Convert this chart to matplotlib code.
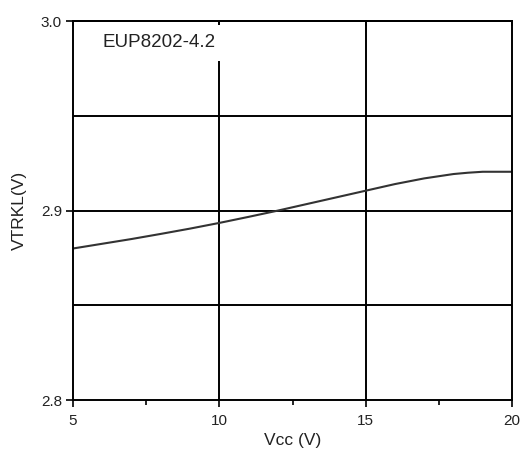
import numpy as np
import matplotlib.pyplot as plt
from matplotlib.ticker import MultipleLocator

plt.rcParams['font.family'] = ['Liberation Sans', 'DejaVu Sans']

# curve
vcc = [5, 6, 7, 8, 9, 10, 11, 12, 13, 14, 15, 16, 17, 18, 18.5, 19, 19.5, 20]
vtrkl = [2.880, 2.8825, 2.885, 2.8877, 2.8905, 2.8935, 2.8967, 2.900, 2.9035,
         2.907, 2.9105, 2.914, 2.917, 2.9193, 2.920, 2.9205, 2.9205, 2.9205]
xticks = [5, 10, 15, 20]
yticks = [2.8, 2.9, 3.0]
ygrid = [2.85, 2.9, 2.95]
xgrid = [10, 15]

fig = plt.figure(figsize=(5.23, 4.5), dpi=100)
ax = fig.add_axes([0.1396, 0.111, 0.8394, 0.842])

for g in ygrid:
    ax.axhline(g, color='black', lw=1.4, zorder=1)
for g in xgrid:
    ax.axvline(g, color='black', lw=1.4, zorder=1)

ax.plot(vcc, vtrkl, color='#333333', lw=1.5, zorder=2)

ax.set_xlim(5, 20)
ax.set_ylim(2.8, 3.0)
ax.set_xticks(xticks)
ax.set_yticks(yticks)
ax.set_yticklabels(['2.8', '2.9', '3.0'])
ax.xaxis.set_minor_locator(MultipleLocator(2.5))
ax.tick_params(axis='both', which='major', direction='out', length=5, width=1.2,
               labelsize=11, pad=3, labelcolor='#222222')
ax.tick_params(axis='x', which='major', pad=5)
ax.tick_params(axis='x', which='minor', direction='out', length=3.5, width=1.2)
for s in ax.spines.values():
    s.set_linewidth(1.4)

# small inward ticks on the top edge
top = ax.secondary_xaxis('top')
top.set_xticks(xticks)
top.tick_params(direction='in', length=3.5, width=1.2, labeltop=False)
top.spines['top'].set_linewidth(1.4)

ax.set_xlabel('Vcc (V)', fontsize=12.5, labelpad=4, color='#222222')
ax.set_ylabel('VTRKL(V)', fontsize=12.5, labelpad=10, color='#222222')

ax.text(6.0, 2.9885, 'EUP8202-4.2', fontsize=13.5, va='center', ha='left',
        color='#222222', bbox=dict(facecolor='white', edgecolor='none', pad=7),
        zorder=3)

fig.savefig('out.png', dpi=100)
